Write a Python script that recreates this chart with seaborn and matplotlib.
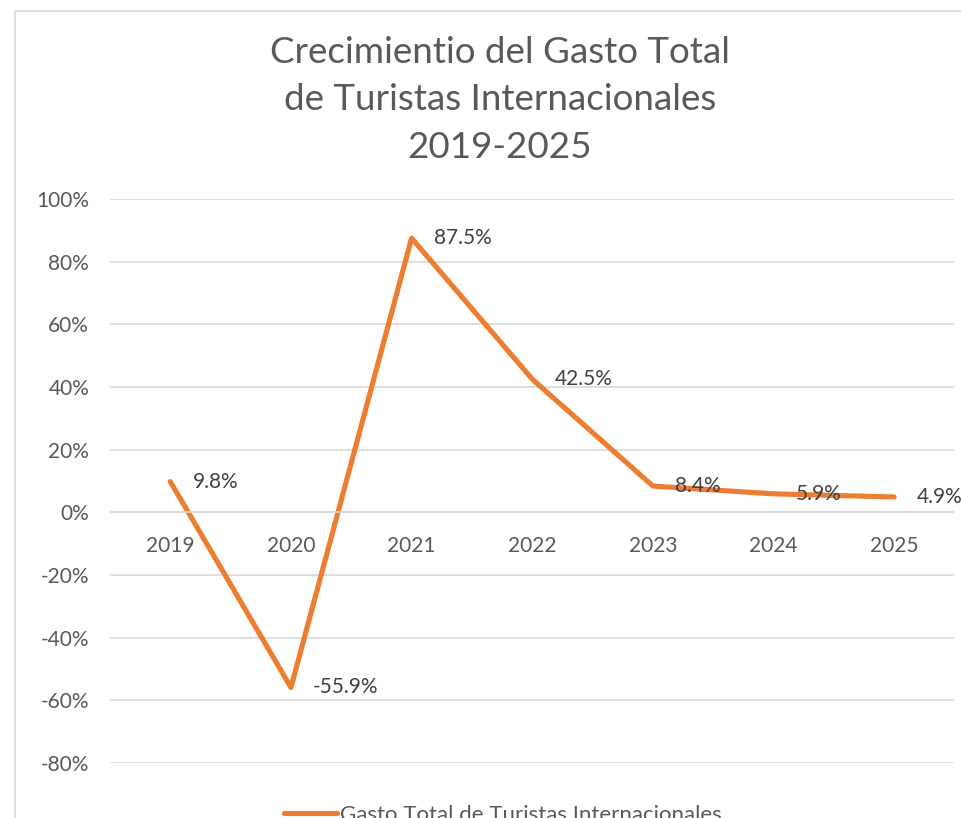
import matplotlib
matplotlib.use("Agg")
import matplotlib.pyplot as plt
from matplotlib.patches import Rectangle
import seaborn as sns
import pandas as pd

years = ["2019", "2020", "2021", "2022", "2023", "2024", "2025"]
growth = [9.8, -55.9, 87.5, 42.5, 8.4, 5.9, 4.9]
series_name = "Gasto Total de Turistas Internacionales"
title_lines = ["Crecimientio del Gasto Total", "de Turistas Internacionales", "2019-2025"]
y_ticks = [-80, -60, -40, -20, 0, 20, 40, 60, 80, 100]

sns.set_theme(style="white")
plt.rcParams["font.family"] = ["Lato", "DejaVu Sans"]

df = pd.DataFrame({"Año": years, "Crecimiento": growth})

W, H = 962, 818
fig = plt.figure(figsize=(W / 100, H / 100), dpi=100)
ax = fig.add_axes([110 / W, 1 - 763 / H, (954.5 - 110) / W, (763 - 199) / H])

# chart border
fig.patches.append(Rectangle((15 / W, -0.1), 1.2, 1 - 11 / H + 0.1, transform=fig.transFigure,
                             fill=False, edgecolor="#D9D9D9", linewidth=1.2, zorder=0))

sns.lineplot(data=df, x="Año", y="Crecimiento", ax=ax, color="#ED7D31", linewidth=3.7,
             label=series_name, sort=False)
for l in ax.get_lines():
    l.set_solid_capstyle("round")
    l.set_solid_joinstyle("round")

ax.set_xlim(-0.5, len(years) - 0.5)
ax.set_ylim(-80, 100)
ax.set_yticks(y_ticks)
ax.set_yticklabels([f"{v}%" for v in y_ticks])
ax.grid(axis="y", color="#D9D9D9", linewidth=1.2)
ax.grid(axis="x", visible=False)
ax.set_axisbelow(True)
for s in ["top", "right", "left"]:
    ax.spines[s].set_visible(False)
ax.spines["bottom"].set_position(("data", 0))
ax.spines["bottom"].set_color("#D9D9D9")
ax.spines["bottom"].set_linewidth(1.2)
ax.tick_params(axis="x", length=0, pad=17, labelsize=15, labelcolor="#595959")
ax.tick_params(axis="y", length=0, pad=15, labelsize=15, labelcolor="#595959")
ax.set_xlabel("")
ax.set_ylabel("")

for i, v in enumerate(growth):
    ax.annotate(f"{v:.1f}%", xy=(i, v), xytext=(16, 0), textcoords="offset points",
                ha="left", va="center", fontsize=15, color="#404040")

fig.text(500 / W, 1 - 100 / H, "\n".join(title_lines), ha="center", va="center",
         fontsize=26.5, color="#595959", fontweight="normal", linespacing=1.52)

leg = ax.legend(loc="center", bbox_to_anchor=(503 / W, 1 - 815 / H), bbox_transform=fig.transFigure,
                frameon=False, fontsize=16, handlelength=2.4, handletextpad=0.15)
for t in leg.get_texts():
    t.set_color("#595959")
for h in leg.get_lines():
    h.set_linewidth(3.7)

fig.savefig("out.png", dpi=100)
